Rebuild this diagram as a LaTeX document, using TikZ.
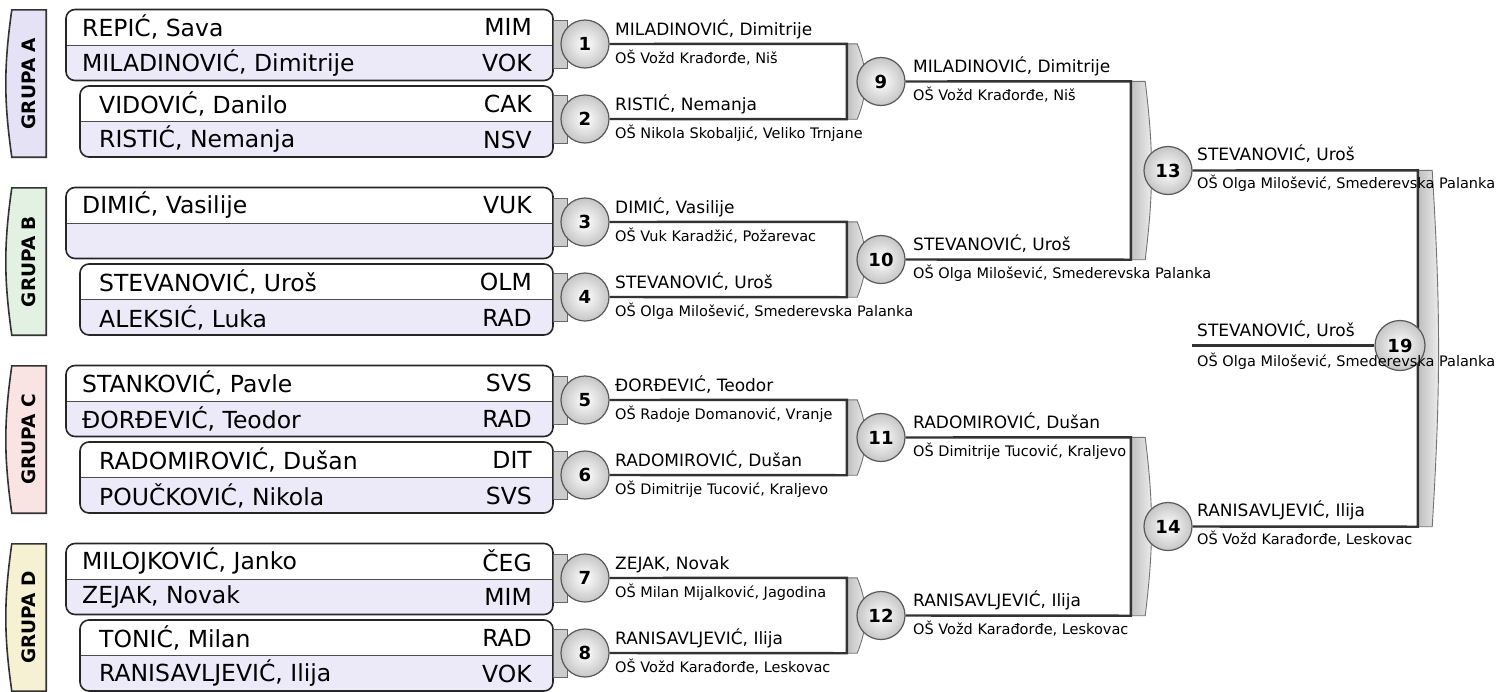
\documentclass[tikz,border=0pt]{standalone}
\usepackage{fontspec}
\setmainfont{DejaVu Sans}
\usepackage{tikz}
\usetikzlibrary{positioning,calc,backgrounds}
\definecolor{lav}{HTML}{ECE9F9}
\definecolor{tabA}{HTML}{E6E2F6}
\definecolor{tabB}{HTML}{E3F1E3}
\definecolor{tabC}{HTML}{F9E3E3}
\definecolor{tabD}{HTML}{F6F1D3}
\definecolor{ink}{HTML}{333333}

\begin{document}
\begin{tikzpicture}[x=1pt,y=1pt,
 duo/.style={draw=black!85,line width=1.6pt,rounded corners=9pt,fill=lav,minimum height=71pt,inner sep=0,
  path picture={\fill[white,sharp corners] (path picture bounding box.north west) rectangle (path picture bounding box.east);
   \draw[line width=1pt,black!70,sharp corners] (path picture bounding box.west) -- (path picture bounding box.east);}},
 pl/.style={font=\fontsize{23.5}{27}\selectfont,anchor=west,inner sep=0},
 code/.style={pl,anchor=east},
 grp/.style={font=\fontsize{18.5}{21}\selectfont\bfseries,minimum width=34pt,minimum height=147pt,inner sep=0},
 tab/.style={draw=black!80,line width=1.6pt},
 stub/.style={draw=black!60,line width=1pt,fill=gray!40,minimum width=14pt,minimum height=48pt,inner sep=0},
 ball/.style={circle,draw=black!65,line width=1.2pt,inner color=white,outer color=gray!45,minimum size=48pt,inner sep=0,
  font=\fontsize{18}{21}\selectfont\bfseries},
 kbar/.style={inner sep=0,minimum width=10pt},
 kfill/.style={draw=black!55,line width=0.9pt,left color=gray!50,right color=gray!12},
 wire/.style={draw=ink,line width=2.4pt},
 wn/.style={font=\fontsize{17}{20}\selectfont,anchor=base west,inner sep=0},
 sch/.style={font=\fontsize{14.5}{17}\selectfont,anchor=base west,inner sep=0}]
\useasboundingbox (0,0) rectangle (1499,-691);

% grupe
\node[grp] (gA) at (29,-83.5) {\rotatebox{90}{GRUPA A}};
\node[grp] (gB) at (29,-261.5) {\rotatebox{90}{GRUPA B}};
\node[grp] (gC) at (29,-439.5) {\rotatebox{90}{GRUPA C}};
\node[grp] (gD) at (29,-617.5) {\rotatebox{90}{GRUPA D}};
\begin{scope}[on background layer]
\draw[tab,fill=tabA] (gA.north east) -- (gA.north west) to[bend right=8] (gA.south west) -- (gA.south east) -- cycle;
\draw[tab,fill=tabB] (gB.north east) -- (gB.north west) to[bend right=8] (gB.south west) -- (gB.south east) -- cycle;
\draw[tab,fill=tabC] (gC.north east) -- (gC.north west) to[bend right=8] (gC.south west) -- (gC.south east) -- cycle;
\draw[tab,fill=tabD] (gD.north east) -- (gD.north west) to[bend right=8] (gD.south west) -- (gD.south east) -- cycle;
\end{scope}

% igraci
\node[duo,minimum width=487pt] (bxA1) at (309.5,-45) {};
\node[duo,minimum width=473pt] (bxA2) at (316.5,-121.5) {};
\node[duo,minimum width=487pt] (bxB1) at (309.5,-223) {};
\node[duo,minimum width=473pt] (bxB2) at (316.5,-299.5) {};
\node[duo,minimum width=487pt] (bxC1) at (309.5,-401) {};
\node[duo,minimum width=473pt] (bxC2) at (316.5,-477.5) {};
\node[duo,minimum width=487pt] (bxD1) at (309.5,-579) {};
\node[duo,minimum width=473pt] (bxD2) at (316.5,-655.5) {};

\node[pl] (pA1) at (82,-27) {REPIĆ, Sava};          \node[code] (cA1) at (532,-27) {MIM};
\node[pl] (pA2) at (82,-63) {MILADINOVIĆ, Dimitrije}; \node[code] (cA2) at (532,-63) {VOK};
\node[pl] (pA3) at (99,-104) {VIDOVIĆ, Danilo};      \node[code] (cA3) at (532,-104) {CAK};
\node[pl] (pA4) at (99,-139.5) {RISTIĆ, Nemanja};    \node[code] (cA4) at (532,-139.5) {NSV};
\node[pl] (pB1) at (82,-205) {DIMIĆ, Vasilije};      \node[code] (cB1) at (532,-205) {VUK};
\node[pl] (pB3) at (99,-282) {STEVANOVIĆ, Uroš};     \node[code] (cB3) at (532,-282) {OLM};
\node[pl] (pB4) at (99,-317.5) {ALEKSIĆ, Luka};      \node[code] (cB4) at (532,-317.5) {RAD};
\node[pl] (pC1) at (82,-383) {STANKOVIĆ, Pavle};     \node[code] (cC1) at (532,-383) {SVS};
\node[pl] (pC2) at (82,-419) {ĐORĐEVIĆ, Teodor};     \node[code] (cC2) at (532,-419) {RAD};
\node[pl] (pC3) at (99,-460) {RADOMIROVIĆ, Dušan};   \node[code] (cC3) at (532,-460) {DIT};
\node[pl] (pC4) at (99,-495.5) {POUČKOVIĆ, Nikola};  \node[code] (cC4) at (532,-495.5) {SVS};
\node[pl] (pD1) at (82,-561) {MILOJKOVIĆ, Janko};    \node[code] (cD1) at (532,-561) {ČEG};
\node[pl] (pD2) at (82,-597) {ZEJAK, Novak};         \node[code] (cD2) at (532,-597) {MIM};
\node[pl] (pD3) at (99,-638) {TONIĆ, Milan};         \node[code] (cD3) at (532,-638) {RAD};
\node[pl] (pD4) at (99,-673.5) {RANISAVLJEVIĆ, Ilija}; \node[code] (cD4) at (532,-673.5) {VOK};

% nosaci (bracket bars)
\node[kbar,minimum height=75pt] (k9) at (852,-81.5) {};
\node[kbar,minimum height=75pt] (k10) at (852,-259.5) {};
\node[kbar,minimum height=75pt] (k11) at (852,-437.5) {};
\node[kbar,minimum height=75pt] (k12) at (852,-615.5) {};
\node[kbar,minimum width=14pt,minimum height=178pt] (k13) at (1138,-170.5) {};
\node[kbar,minimum width=14pt,minimum height=178pt] (k14) at (1138,-526.5) {};
\node[kbar,minimum width=14pt,minimum height=356pt] (k19) at (1425,-348.5) {};
\draw[kfill] (k9.north west) -- (k9.north east) to[bend left=22] (k9.south east) -- (k9.south west) -- cycle;
\draw[kfill] (k10.north west) -- (k10.north east) to[bend left=22] (k10.south east) -- (k10.south west) -- cycle;
\draw[kfill] (k11.north west) -- (k11.north east) to[bend left=22] (k11.south east) -- (k11.south west) -- cycle;
\draw[kfill] (k12.north west) -- (k12.north east) to[bend left=22] (k12.south east) -- (k12.south west) -- cycle;
\draw[kfill] (k13.north west) -- (k13.north east) to[bend left=7] (k13.south east) -- (k13.south west) -- cycle;
\draw[kfill] (k14.north west) -- (k14.north east) to[bend left=7] (k14.south east) -- (k14.south west) -- cycle;
\draw[kfill] (k19.north west) -- (k19.north east) to[bend left=3.5] (k19.south east) -- (k19.south west) -- cycle;

% prvo kolo
\node[stub] (s1) at (560,-44) {};  \node[stub] (s2) at (560,-119) {};
\node[stub] (s3) at (560,-222) {}; \node[stub] (s4) at (560,-297) {};
\node[stub] (s5) at (560,-400) {}; \node[stub] (s6) at (560,-475) {};
\node[stub] (s7) at (560,-578) {}; \node[stub] (s8) at (560,-653) {};
\node[ball] (m1) at (585,-44) {1};  \node[ball] (m2) at (585,-119) {2};
\node[ball] (m3) at (585,-222) {3}; \node[ball] (m4) at (585,-297) {4};
\node[ball] (m5) at (585,-400) {5}; \node[ball] (m6) at (585,-475) {6};
\node[ball] (m7) at (585,-578) {7}; \node[ball] (m8) at (585,-653) {8};

\draw[wire] (m1) -- (k9.north west) -- (k9.south west) -- (m2);
\draw[wire] (m3) -- (k10.north west) -- (k10.south west) -- (m4);
\draw[wire] (m5) -- (k11.north west) -- (k11.south west) -- (m6);
\draw[wire] (m7) -- (k12.north west) -- (k12.south west) -- (m8);

% drugo i trece kolo
\node[ball] (m9) at (881,-81.5) {9};
\node[ball] (m10) at (881,-259.5) {10};
\node[ball] (m11) at (881,-437.5) {11};
\node[ball] (m12) at (881,-615.5) {12};
\draw[wire] (m9) -- (k13.north west) -- (k13.south west) -- (m10);
\draw[wire] (m11) -- (k14.north west) -- (k14.south west) -- (m12);
\node[ball] (m13) at (1168,-170.5) {13};
\node[ball] (m14) at (1168,-526.5) {14};
\draw[wire] (m13) -- (k19.north west) -- (k19.south west) -- (m14);
\coordinate (e19) at (1192,-345.5);
\node[ball,minimum size=50pt] (m19) at (1400,-345.5) {19};
\begin{scope}[on background layer]
\draw[wire] (e19) -- (m19);
\end{scope}

% pobednici
\node[wn] (w1) at ([xshift=30pt,yshift=9pt]m1.center) {MILADINOVIĆ, Dimitrije};
\node[sch] (o1) at ([xshift=30pt,yshift=-19pt]m1.center) {OŠ Vožd Krađorđe, Niš};
\node[wn] (w2) at ([xshift=30pt,yshift=9pt]m2.center) {RISTIĆ, Nemanja};
\node[sch] (o2) at ([xshift=30pt,yshift=-19pt]m2.center) {OŠ Nikola Skobaljić, Veliko Trnjane};
\node[wn] (w3) at ([xshift=30pt,yshift=9pt]m3.center) {DIMIĆ, Vasilije};
\node[sch] (o3) at ([xshift=30pt,yshift=-19pt]m3.center) {OŠ Vuk Karadžić, Požarevac};
\node[wn] (w4) at ([xshift=30pt,yshift=9pt]m4.center) {STEVANOVIĆ, Uroš};
\node[sch] (o4) at ([xshift=30pt,yshift=-19pt]m4.center) {OŠ Olga Milošević, Smederevska Palanka};
\node[wn] (w5) at ([xshift=30pt,yshift=9pt]m5.center) {ĐORĐEVIĆ, Teodor};
\node[sch] (o5) at ([xshift=30pt,yshift=-19pt]m5.center) {OŠ Radoje Domanović, Vranje};
\node[wn] (w6) at ([xshift=30pt,yshift=9pt]m6.center) {RADOMIROVIĆ, Dušan};
\node[sch] (o6) at ([xshift=30pt,yshift=-19pt]m6.center) {OŠ Dimitrije Tucović, Kraljevo};
\node[wn] (w7) at ([xshift=30pt,yshift=9pt]m7.center) {ZEJAK, Novak};
\node[sch] (o7) at ([xshift=30pt,yshift=-19pt]m7.center) {OŠ Milan Mijalković, Jagodina};
\node[wn] (w8) at ([xshift=30pt,yshift=9pt]m8.center) {RANISAVLJEVIĆ, Ilija};
\node[sch] (o8) at ([xshift=30pt,yshift=-19pt]m8.center) {OŠ Vožd Karađorđe, Leskovac};
\node[wn] (w9) at ([xshift=32pt,yshift=9pt]m9.center) {MILADINOVIĆ, Dimitrije};
\node[sch] (o9) at ([xshift=32pt,yshift=-19pt]m9.center) {OŠ Vožd Krađorđe, Niš};
\node[wn] (w10) at ([xshift=32pt,yshift=9pt]m10.center) {STEVANOVIĆ, Uroš};
\node[sch] (o10) at ([xshift=32pt,yshift=-19pt]m10.center) {OŠ Olga Milošević, Smederevska Palanka};
\node[wn] (w11) at ([xshift=32pt,yshift=9pt]m11.center) {RADOMIROVIĆ, Dušan};
\node[sch] (o11) at ([xshift=32pt,yshift=-19pt]m11.center) {OŠ Dimitrije Tucović, Kraljevo};
\node[wn] (w12) at ([xshift=32pt,yshift=9pt]m12.center) {RANISAVLJEVIĆ, Ilija};
\node[sch] (o12) at ([xshift=32pt,yshift=-19pt]m12.center) {OŠ Vožd Karađorđe, Leskovac};
\node[wn] (w13) at ([xshift=29pt,yshift=10pt]m13.center) {STEVANOVIĆ, Uroš};
\node[sch] (o13) at ([xshift=29pt,yshift=-18pt]m13.center) {OŠ Olga Milošević, Smederevska Palanka};
\node[wn] (w14) at ([xshift=29pt,yshift=10pt]m14.center) {RANISAVLJEVIĆ, Ilija};
\node[sch] (o14) at ([xshift=29pt,yshift=-18pt]m14.center) {OŠ Vožd Karađorđe, Leskovac};
\node[wn] (w19) at ([xshift=5pt,yshift=9pt]e19) {STEVANOVIĆ, Uroš};
\node[sch] (o19) at ([xshift=5pt,yshift=-20.5pt]e19) {OŠ Olga Milošević, Smederevska Palanka};
\end{tikzpicture}
\end{document}
